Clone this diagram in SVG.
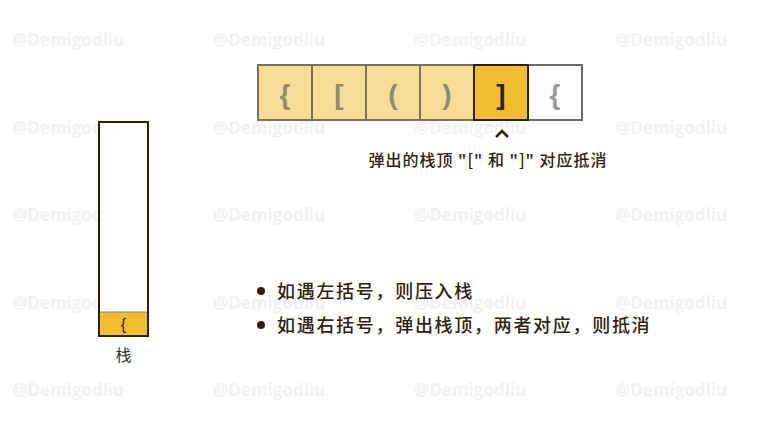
<svg xmlns="http://www.w3.org/2000/svg" width="760" height="440" viewBox="0 0 760 440">
<style>
.wm{font-family:"Open Sans","Liberation Sans",sans-serif;font-weight:bold;font-size:17px;fill:#f2f2f2}
.cell{fill:#f7dc95;stroke:#7d7255;stroke-width:2}
.sym{font-family:"Liberation Sans","DejaVu Sans",sans-serif;font-size:28px;font-weight:bold;fill:#8f8a77;text-anchor:middle}
.cjk{font-family:"Noto Sans CJK SC","Noto Sans",sans-serif;fill:#2e2410;font-weight:500}
</style>
<rect width="760" height="440" fill="#fff"/>
<g id="watermarks">
<text class="wm" x="12" y="46">@Demigodliu</text><text class="wm" x="213" y="46">@Demigodliu</text><text class="wm" x="414" y="46">@Demigodliu</text><text class="wm" x="615" y="46">@Demigodliu</text>
<text class="wm" x="12" y="134">@Demigodliu</text><text class="wm" x="213" y="134">@Demigodliu</text><text class="wm" x="414" y="134">@Demigodliu</text><text class="wm" x="615" y="134">@Demigodliu</text>
<text class="wm" x="12" y="221">@Demigodliu</text><text class="wm" x="213" y="221">@Demigodliu</text><text class="wm" x="414" y="221">@Demigodliu</text><text class="wm" x="615" y="221">@Demigodliu</text>
<text class="wm" x="12" y="309">@Demigodliu</text><text class="wm" x="213" y="309">@Demigodliu</text><text class="wm" x="414" y="309">@Demigodliu</text><text class="wm" x="615" y="309">@Demigodliu</text>
<text class="wm" x="12" y="396">@Demigodliu</text><text class="wm" x="213" y="396">@Demigodliu</text><text class="wm" x="414" y="396">@Demigodliu</text><text class="wm" x="615" y="396">@Demigodliu</text>
</g>
<g id="array">
<g id="c1"><rect class="cell" x="258" y="65" width="54" height="55"/><text class="sym" x="285" y="104">{</text></g>
<g id="c2"><rect class="cell" x="312" y="65" width="54" height="55"/><text class="sym" x="339" y="104">[</text></g>
<g id="c3"><rect class="cell" x="366" y="65" width="54" height="55"/><text class="sym" x="393" y="104">(</text></g>
<g id="c4"><rect class="cell" x="420" y="65" width="54" height="55"/><text class="sym" x="447" y="104">)</text></g>
<g id="c6"><rect x="528" y="65" width="54" height="55" fill="#fff" stroke="#6b6b6b" stroke-width="2"/><text class="sym" x="555" y="104" style="fill:#9a9a9a">{</text></g>
<g id="c5"><rect x="474" y="65" width="54" height="55" fill="#f2bd2f" stroke="#2e2000" stroke-width="2"/><text class="sym" x="501" y="104" style="fill:#2e2000">]</text></g>
</g>
<g id="pointer">
<path d="M496 137 L502 131 L508 137" fill="none" stroke="#2e2000" stroke-width="2.5"/>
<text class="cjk" x="488" y="166" font-size="16" letter-spacing="1" text-anchor="middle">弹出的栈顶 "[" 和 "]" 对应抵消</text>
</g>
<g id="stack">
<rect x="99" y="122" width="49" height="214" fill="#fff" stroke="#2e2000" stroke-width="2"/>
<rect x="100" y="312" width="47" height="23" fill="#f2bd2f"/>
<line x1="100" y1="312" x2="147" y2="312" stroke="#8a8060" stroke-width="1"/>
<text x="123.5" y="330" font-family="Liberation Sans,sans-serif" font-size="16" fill="#2e2000" text-anchor="middle">{</text>
<text class="cjk" x="123.5" y="361" font-size="16" text-anchor="middle" style="fill:#333;font-weight:normal">栈</text>
</g>
<g id="notes">
<circle cx="261" cy="291" r="4" fill="#2e2000"/>
<text class="cjk" x="277" y="298" font-size="18" letter-spacing="1.7">如遇左括号，则压入栈</text>
<circle cx="261" cy="325" r="4" fill="#2e2000"/>
<text class="cjk" x="277" y="332" font-size="18" letter-spacing="1.7">如遇右括号，弹出栈顶，两者对应，则抵消</text>
</g>
</svg>
